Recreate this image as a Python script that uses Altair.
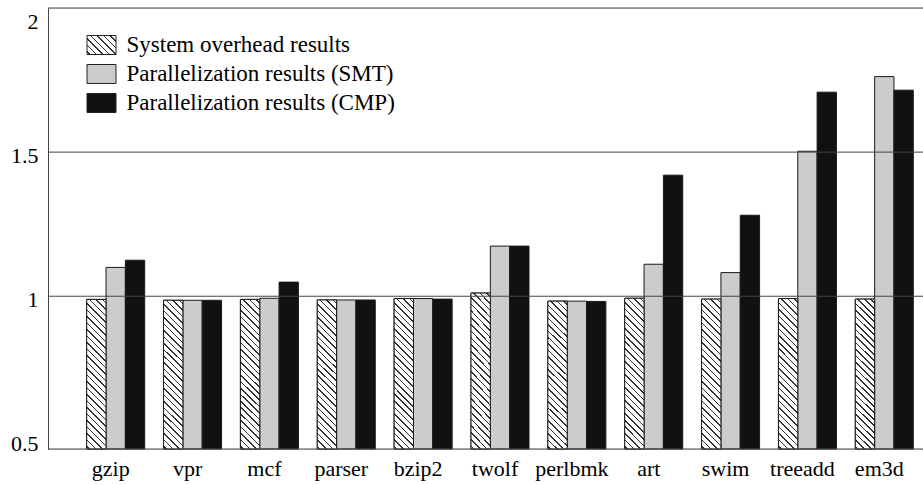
import math
import json
import altair as alt
import pandas as pd

# ---------------- data ----------------
benchmarks = ["gzip", "vpr", "mcf", "parser", "bzip2", "twolf",
              "perlbmk", "art", "swim", "treeadd", "em3d"]
series_names = ["System overhead results",
                "Parallelization results (SMT)",
                "Parallelization results (CMP)"]
overhead = [0.989, 0.986, 0.989, 0.987, 0.992, 1.011, 0.983, 0.993, 0.990, 0.992, 0.990]
smt      = [1.100, 0.986, 0.993, 0.987, 0.992, 1.174, 0.983, 1.111, 1.082, 1.503, 1.762]
cmp_     = [1.125, 0.986, 1.049, 0.987, 0.990, 1.174, 0.982, 1.420, 1.281, 1.708, 1.715]
y_ticks = [0.5, 1, 1.5, 2]
y_min, y_max = 0.47, 2.0
frame_lines = [y_min, 1.0, 1.5, y_max]

rows = []
for name, vals in zip(series_names, [overhead, smt, cmp_]):
    for b, v in zip(benchmarks, vals):
        rows.append({"bench": b, "series": name, "value": v})
df = pd.DataFrame(rows)
hatched_df = df[df["series"] == series_names[0]]
lines_df = pd.DataFrame({"y": frame_lines})

FONT = "'Liberation Serif', 'Times New Roman', Times, 'DejaVu Serif', serif"
LINE = "#444444"
INK = "#333333"


# ---------------- hatch (diagonal stripes as linear gradient) ----------------
def stripe_stops(length_px, spacing=4.6, line=1.1):
    stops = []
    i = 0
    while True:
        t0 = (i * spacing + 1.5) / length_px
        t1 = t0 + line / length_px
        if t1 >= 1:
            break
        stops += [{"offset": round(t0, 4), "color": "#ffffff"},
                  {"offset": round(t0, 4), "color": INK},
                  {"offset": round(t1, 4), "color": INK},
                  {"offset": round(t1, 4), "color": "#ffffff"}]
        i += 1
    return stops


def hatch(w, h):
    r = w / h
    k = (r + 1) / (r * r + 1)
    L = (w + h) / math.sqrt(2)
    return {"gradient": "linear", "x1": 0, "y1": 1,
            "x2": round(k * r, 4), "y2": round(1 - k, 4),
            "stops": stripe_stops(L)}


bar_hatch = hatch(19.3, 150.0)
legend_hatch = hatch(29.0, 19.0)

# ---------------- encodings ----------------
x_enc = alt.X("bench:N", sort=benchmarks,
              scale=alt.Scale(domain=benchmarks, range=[38.7, 865.3],
                              paddingInner=0.2454, paddingOuter=0),
              axis=alt.Axis(title=None, domain=False, ticks=False, labelAngle=0,
                            labelFont=FONT, labelFontSize=22, labelColor="black",
                            labelPadding=9, labelOffset=-5, labelOverlap=False, grid=False))
xo_enc = alt.XOffset("series:N", sort=series_names,
                     scale=alt.Scale(domain=series_names, paddingInner=0, paddingOuter=0))
y_enc = alt.Y("value:Q",
              scale=alt.Scale(domain=[y_min, y_max], zero=False, nice=False),
              axis=alt.Axis(title=None, values=y_ticks, format="~g", grid=False,
                            ticks=False, tickSize=0,
                            domain=True, domainColor=LINE, domainWidth=1,
                            labelFont=FONT, labelFontSize=22, labelColor="black",
                            labelPadding=10, labelBaseline="middle",
                            labelOffset={"condition": {"test": "datum.value == 2", "value": 13},
                                         "value": 3}))

bars = alt.Chart(df).mark_bar(stroke="#1a1a1a", strokeWidth=1).encode(
    x=x_enc,
    xOffset=xo_enc,
    y=y_enc,
    y2=alt.datum(y_min),
    fill=alt.Fill("series:N", sort=series_names,
                  scale=alt.Scale(domain=series_names,
                                  range=[{"expr": json.dumps(legend_hatch)}, "#cccccc", "#111111"]),
                  legend=alt.Legend(title=None, orient="none", legendX=38.5, legendY=22,
                                    direction="vertical",
                                    symbolType="M-1,-0.655H1V0.655H-1Z", symbolSize=841,
                                    symbolStrokeColor="#222222", symbolStrokeWidth=1,
                                    symbolOpacity=1,
                                    labelFont=FONT, labelFontSize=23, labelColor="black",
                                    labelOffset=10, rowPadding=2, labelLimit=0, padding=0)),
)

hatched = alt.Chart(hatched_df).mark_bar(stroke="#1a1a1a", strokeWidth=1, fill=bar_hatch).encode(
    x=alt.X("bench:N", sort=benchmarks),
    xOffset=alt.XOffset("series:N", sort=series_names),
    y=alt.Y("value:Q"),
    y2=alt.datum(y_min),
)

rules = alt.Chart(lines_df).mark_rule(color=LINE, strokeWidth=1).encode(
    y=alt.Y("y:Q")
)

chart = alt.layer(bars, hatched, rules).properties(
    width=875, height=441,
    padding={"left": 48, "top": 8, "right": 0, "bottom": 36},
    autosize=alt.AutoSizeParams(type="none"),
).configure_view(stroke=None).configure(background="white")

chart.save("out.html", embed_options={"renderer": "svg", "actions": False})
